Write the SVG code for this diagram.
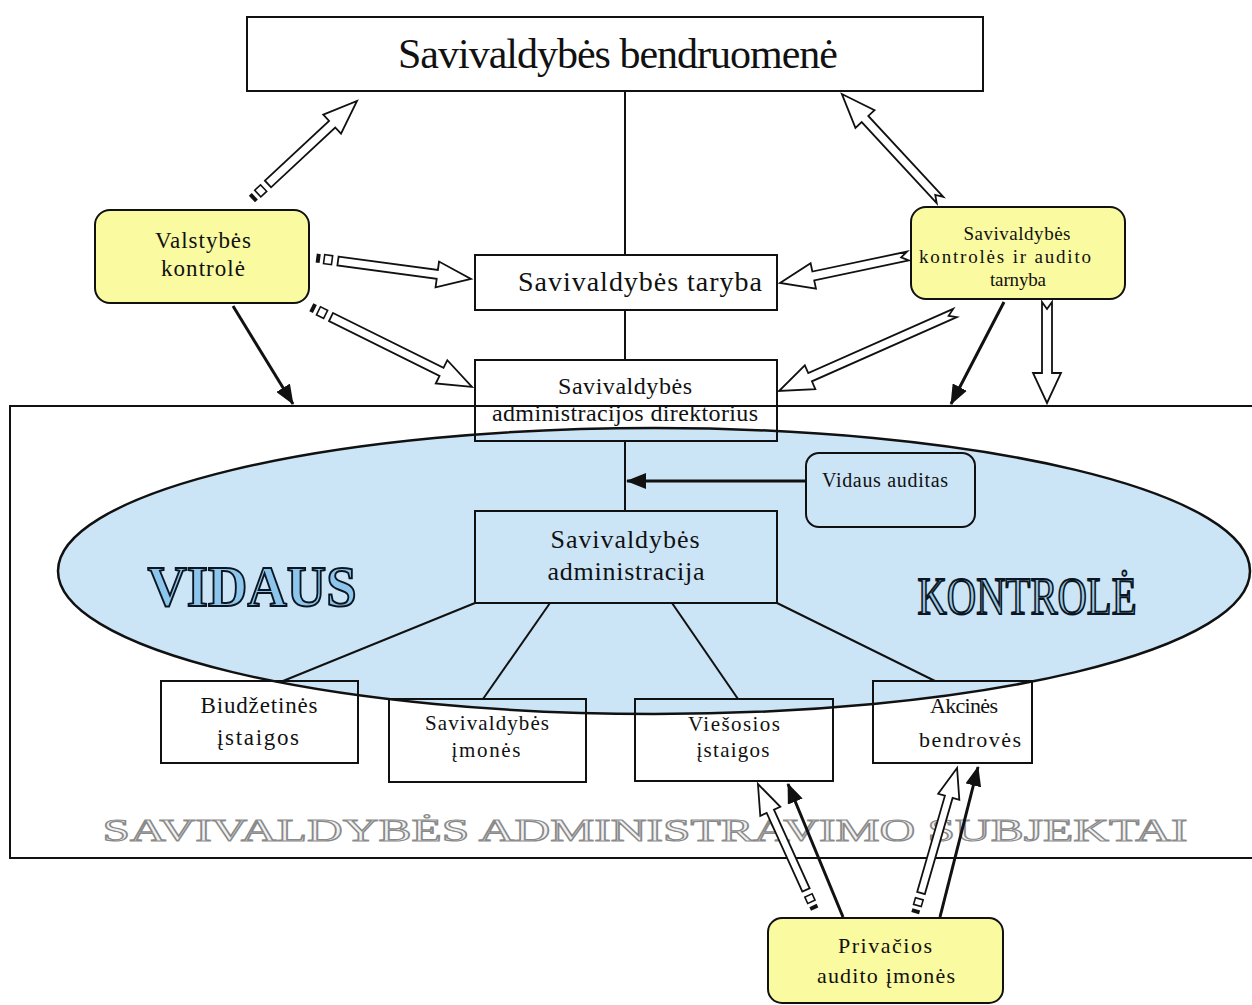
<svg xmlns="http://www.w3.org/2000/svg" width="1252" height="1005" viewBox="0 0 1252 1005">
<defs>
<style>
.box{fill:none;stroke:#111;stroke-width:2}
.wbox{fill:#fff;stroke:#111;stroke-width:2}
.ybox{fill:#fafaa0;stroke:#111;stroke-width:2}
.t{font-family:"Liberation Serif","Times New Roman",serif;fill:#111;text-anchor:middle}
.ln{stroke:#111;stroke-width:2;fill:none}
.bl{stroke:#111;stroke-width:3;fill:none;marker-end:url(#ah)}
.ha{fill:#fff;stroke:#111;stroke-width:1.8;stroke-linejoin:miter}
.sq{fill:#fff;stroke:#111;stroke-width:1.6}
.bar{fill:#111}
</style>
<marker id="ah" viewBox="0 0 20 16" refX="19" refY="8" markerWidth="20" markerHeight="16" markerUnits="userSpaceOnUse" orient="auto">
<path d="M0,0 L20,8 L0,16 z" fill="#111"/>
</marker>
</defs>
<rect x="0" y="0" width="1252" height="1005" fill="#fff"/>

<g id="frame">
<rect x="10" y="406" width="1252" height="452" fill="#fff" stroke="#111" stroke-width="2"/>
<ellipse cx="654" cy="571" rx="596" ry="143" fill="#cbe5f7" stroke="#111" stroke-width="2.5"/>
<text x="252" y="606" class="t" font-size="58" font-weight="bold" textLength="209" lengthAdjust="spacingAndGlyphs" style="fill:#8cc6ec;stroke:#0b1622;stroke-width:2">VIDAUS</text>
<text x="1027" y="614" class="t" font-size="52" textLength="219" lengthAdjust="spacingAndGlyphs" style="fill:#9cc9e6;stroke:#0b1622;stroke-width:2">KONTROLĖ</text>
<text x="645" y="841" class="t" font-size="32" textLength="1085" lengthAdjust="spacingAndGlyphs" style="fill:#f2f2f2;stroke:#8a8a8a;stroke-width:1.2">SAVIVALDYBĖS ADMINISTRAVIMO SUBJEKTAI</text>
</g>

<g id="connectors">
<line class="ln" x1="625" y1="91" x2="625" y2="255"/>
<line class="ln" x1="625" y1="310" x2="625" y2="360"/>
<line class="ln" x1="625" y1="441" x2="625" y2="511"/>
<line class="ln" x1="475" y1="603" x2="283" y2="681"/>
<line class="ln" x1="550" y1="603" x2="483" y2="699"/>
<line class="ln" x1="672" y1="603" x2="738" y2="699"/>
<line class="ln" x1="777" y1="603" x2="935" y2="681"/>
<line class="bl" x1="806" y1="481" x2="627" y2="481"/>
<line class="bl" x1="233" y1="306" x2="293" y2="404"/>
<line class="bl" x1="1004" y1="302" x2="951" y2="404"/>
<line class="bl" x1="843" y1="917" x2="788" y2="784"/>
<line class="bl" x1="940" y1="917" x2="978" y2="767"/>

<g transform="translate(268,184) rotate(-43)">
<path class="ha" d="M0,-4.5 H87.7 V-13 L121.7,0 L87.7,13 V4.5 H0 Z"/>
<rect class="sq" x="-14" y="-4.5" width="8" height="9"/><rect class="bar" x="-22" y="-4.5" width="4" height="9"/>
</g>
<g transform="translate(338,261) rotate(7.7)">
<path class="ha" d="M0,-4.5 H100.2 V-13 L134.2,0 L100.2,13 V4.5 H0 Z"/>
<rect class="sq" x="-14" y="-4.5" width="8" height="9"/><rect class="bar" x="-22" y="-4.5" width="4" height="9"/>
</g>
<g transform="translate(331,317) rotate(26.4)">
<path class="ha" d="M0,-4.5 H123.4 V-13 L157.4,0 L123.4,13 V4.5 H0 Z"/>
<rect class="sq" x="-14" y="-4.5" width="8" height="9"/><rect class="bar" x="-22" y="-4.5" width="4" height="9"/>
</g>

<g transform="translate(940,200) rotate(-132.8)">
<path class="ha" d="M0,-4.5 H110.4 V-13 L144.4,0 L110.4,13 V4.5 H0 L7,0 Z"/>
</g>
<g transform="translate(908,256) rotate(168.1)">
<path class="ha" d="M0,-4.5 H96.8 V-13 L130.8,0 L96.8,13 V4.5 H0 L7,0 Z"/>
</g>
<g transform="translate(955,313) rotate(156.1)">
<path class="ha" d="M0,-4.5 H158.5 V-13 L192.5,0 L158.5,13 V4.5 H0 L7,0 Z"/>
</g>
<g transform="translate(1047,302) rotate(90)">
<path class="ha" d="M0,-5 H71 V-14 L101,0 L71,14 V5 H0 L7,0 Z"/>
</g>

<g transform="translate(806,890) rotate(-114.4)">
<path class="ha" d="M0,-4 H86.4 V-11 L116.4,0 L86.4,11 V4 H0 Z"/>
<rect class="sq" x="-13" y="-4" width="7" height="8"/><rect class="bar" x="-21" y="-4" width="4" height="8"/>
</g>
<g transform="translate(921,893) rotate(-73.9)">
<path class="ha" d="M0,-4 H100.1 V-11 L130.1,0 L100.1,11 V4 H0 Z"/>
<rect class="sq" x="-13" y="-4" width="7" height="8"/><rect class="bar" x="-21" y="-4" width="4" height="8"/>
</g>
</g>

<g id="bendruomene">
<rect class="wbox" x="247" y="17" width="736" height="74"/>
<text class="t" x="618" y="68" font-size="42" textLength="440">Savivaldybės bendruomenė</text>
</g>

<g id="valstybes-kontrole">
<rect class="ybox" x="95" y="210" width="214" height="93" rx="15"/>
<text class="t" x="203" y="248" font-size="23" textLength="96">Valstybės</text>
<text class="t" x="203" y="276" font-size="23" textLength="84">kontrolė</text>
</g>

<g id="taryba">
<rect class="wbox" x="475" y="255" width="302" height="55"/>
<text class="t" x="640" y="291" font-size="28" textLength="244">Savivaldybės taryba</text>
</g>

<g id="direktorius">
<rect class="box" x="475" y="360" width="302" height="81"/>
<text class="t" x="625" y="394" font-size="24" textLength="134">Savivaldybės</text>
<text class="t" x="625" y="421" font-size="24" textLength="266">administracijos direktorius</text>
</g>

<g id="tarnyba">
<rect class="ybox" x="911" y="207" width="214" height="92" rx="15"/>
<text class="t" x="1017" y="240" font-size="19" textLength="107">Savivaldybės</text>
<text class="t" x="1005" y="263" font-size="19" textLength="172">kontrolės ir audito</text>
<text class="t" x="1018" y="286" font-size="19" textLength="56">tarnyba</text>
</g>

<g id="vidaus-auditas">
<rect class="box" x="806" y="453" width="169" height="74" rx="13"/>
<text class="t" x="885" y="487" font-size="20" textLength="126">Vidaus auditas</text>
</g>

<g id="administracija">
<rect class="box" x="475" y="511" width="302" height="92"/>
<text class="t" x="625" y="548" font-size="26" textLength="149">Savivaldybės</text>
<text class="t" x="626" y="580" font-size="26" textLength="157">administracija</text>
</g>

<g id="biudzetines">
<rect class="box" x="161" y="681" width="197" height="82"/>
<text class="t" x="259" y="713" font-size="23" textLength="117">Biudžetinės</text>
<text class="t" x="258" y="745" font-size="23" textLength="82">įstaigos</text>
</g>

<g id="imones">
<rect class="box" x="389" y="699" width="197" height="83"/>
<text class="t" x="487" y="730" font-size="21" textLength="124">Savivaldybės</text>
<text class="t" x="486" y="757" font-size="21" textLength="69">įmonės</text>
</g>

<g id="viesosios">
<rect class="box" x="635" y="699" width="198" height="82"/>
<text class="t" x="734" y="731" font-size="21" textLength="92">Viešosios</text>
<text class="t" x="733" y="757" font-size="21" textLength="73">įstaigos</text>
</g>

<g id="akcines">
<rect class="box" x="873" y="681" width="159" height="82"/>
<text class="t" x="964" y="713" font-size="22" textLength="68">Akcinės</text>
<text class="t" x="970" y="747" font-size="22" textLength="102">bendrovės</text>
</g>

<g id="privacios">
<rect class="ybox" x="768" y="918" width="235" height="85" rx="14"/>
<text class="t" x="885" y="953" font-size="22" textLength="94">Privačios</text>
<text class="t" x="886" y="983" font-size="22" textLength="138">audito įmonės</text>
</g>
</svg>
